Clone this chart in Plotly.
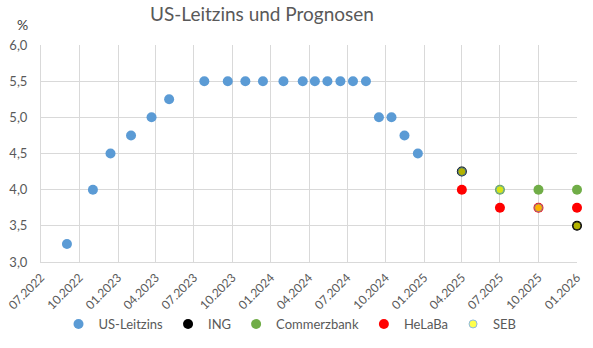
import plotly.graph_objects as go

# --- data ---
us_dates = ["2022-09-01", "2022-11-02", "2022-12-14", "2023-02-01", "2023-03-22", "2023-05-03",
            "2023-07-26", "2023-09-20", "2023-11-01", "2023-12-13", "2024-01-31", "2024-03-17",
            "2024-04-15", "2024-05-15", "2024-06-15", "2024-07-15", "2024-08-15", "2024-09-15",
            "2024-10-15", "2024-11-15", "2024-12-17"]
us_rate = [3.25, 4.0, 4.5, 4.75, 5.0, 5.25,
           5.5, 5.5, 5.5, 5.5, 5.5, 5.5,
           5.5, 5.5, 5.5, 5.5, 5.5, 5.0,
           5.0, 4.75, 4.5]

ing_dates = ["2025-04-01", "2026-01-01"]
ing_vals = [4.25, 3.5]

cb_dates = ["2025-07-01", "2025-10-01", "2026-01-01"]
cb_vals = [4.0, 4.0, 4.0]

helaba_dates = ["2025-04-01", "2025-07-01", "2025-10-01", "2026-01-01"]
helaba_vals = [4.0, 3.75, 3.75, 3.75]

seb_dates = ["2025-04-01", "2025-07-01", "2025-10-01", "2026-01-01"]
seb_vals = [4.25, 4.0, 3.75, 3.5]

W, H = 593, 348
L, R, T, B = 41, 16, 45, 86
PW, PH = W - L - R, H - T - B
GRID = "#D9D9D9"
TXT = "#595959"
FONT = "Lato"


def px_x(px):
    return (px - L) / PW


def px_y(py):
    return ((H - py) - B) / PH


fig = go.Figure()
fig.add_trace(go.Scatter(x=us_dates, y=us_rate, mode="markers", name="US-Leitzins",
                         marker=dict(color="#5B9BD5", size=10), cliponaxis=False))
fig.add_trace(go.Scatter(x=ing_dates, y=ing_vals, mode="markers", name="ING",
                         marker=dict(color="#000000", size=10), cliponaxis=False))
fig.add_trace(go.Scatter(x=cb_dates, y=cb_vals, mode="markers", name="Commerzbank",
                         marker=dict(color="#70AD47", size=10), cliponaxis=False))
fig.add_trace(go.Scatter(x=helaba_dates, y=helaba_vals, mode="markers", name="HeLaBa",
                         marker=dict(color="#FF0000", size=10), cliponaxis=False))
fig.add_trace(go.Scatter(x=seb_dates, y=seb_vals, mode="markers", name="SEB",
                         marker=dict(color="#FFFF00", size=[8, 8, 8, 8],
                                     line=dict(color=["#5B9BD5", "#5B9BD5", "#5B9BD5", "#222222"], width=1)),
                         cliponaxis=False))

fig.update_layout(
    width=W, height=H,
    margin=dict(l=L, r=R, t=T, b=B, autoexpand=False),
    paper_bgcolor="white", plot_bgcolor="white",
    separators=",.",
    font=dict(family=FONT, size=13, color=TXT),
    title=dict(text="US-Leitzins und Prognosen", x=262 / W, xanchor="center", xref="container",
               y=1 - 14 / H, yanchor="middle", yref="container",
               font=dict(family=FONT, size=19, color=TXT)),
    showlegend=True,
    legend=dict(orientation="h", x=px_x(290), xanchor="center", xref="paper",
                y=px_y(309), yanchor="top", yref="paper",
                font=dict(family=FONT, size=13, color=TXT), itemwidth=30,
                bgcolor="rgba(0,0,0,0)"),
    xaxis=dict(type="date", range=["2022-07-01", "2026-01-01"], tick0="2022-07-01", dtick="M3",
               tickformat="%m.%Y", tickangle=-45, showgrid=True, gridcolor=GRID, gridwidth=1,
               showline=True, linecolor=GRID, ticks="", zeroline=False, automargin=False,
               ticklabelstandoff=3,
               tickfont=dict(family=FONT, size=12, color=TXT)),
    yaxis=dict(range=[3, 6], dtick=0.5, tickformat=".1f", showgrid=True, gridcolor=GRID,
               showline=True, linecolor=GRID, ticks="", zeroline=False, automargin=False,
               ticklabelstandoff=10,
               tickfont=dict(family=FONT, size=13, color=TXT)),
    annotations=[dict(text="%", x=px_x(22), y=px_y(24), xref="paper", yref="paper",
                      showarrow=False, xanchor="center", yanchor="middle",
                      font=dict(family=FONT, size=14, color="#404040"))],
)

fig.write_html("out.html")
